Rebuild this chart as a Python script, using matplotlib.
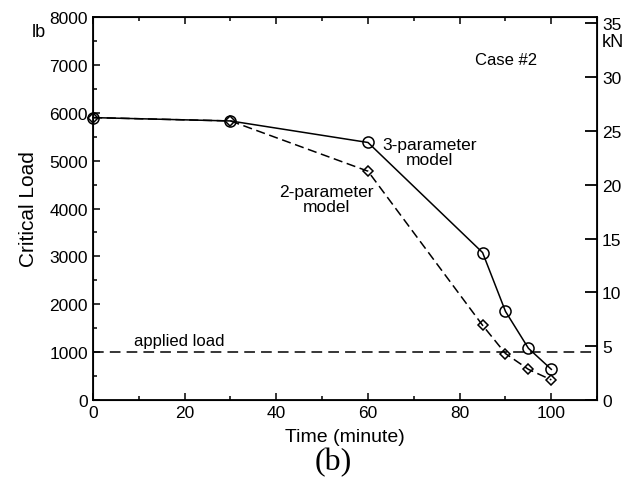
import matplotlib
matplotlib.use("Agg")
import matplotlib.pyplot as plt
from matplotlib.ticker import MultipleLocator

plt.rcParams['font.family'] = ['Liberation Sans', 'DejaVu Sans']

time3 = [0, 30, 60, 85, 90, 95, 100]
load3 = [5900, 5830, 5380, 3080, 1850, 1080, 640]
time2 = [0, 30, 60, 85, 90, 95, 100]
load2 = [5900, 5830, 4780, 1560, 970, 640, 420]
applied_load = 1000
LB_PER_KN = 1000 / 4.448

fig = plt.figure(figsize=(6.24, 4.89), dpi=100)
ax = fig.add_axes([0.149, 0.180, 0.808, 0.783])

ax.plot(time3, load3, '-', color='black', lw=1.1, marker='o', ms=8,
        mfc='none', mec='black', mew=1.1, clip_on=False, zorder=3)
ax.plot(time2, load2, '--', color='black', lw=1.1, dashes=(6, 3), marker='D', ms=5,
        mfc='none', mec='black', mew=1.1, clip_on=False, zorder=3)
ax.axhline(applied_load, color='black', lw=1.1, ls='--', dashes=(7, 4))

ax.set_xlim(0, 110)
ax.set_ylim(0, 8000)
ax.xaxis.set_major_locator(MultipleLocator(20))
ax.xaxis.set_minor_locator(MultipleLocator(10))
ax.yaxis.set_major_locator(MultipleLocator(1000))
ax.yaxis.set_minor_locator(MultipleLocator(500))
ax.tick_params(which='both', direction='in', top=True, labelsize=12.5, width=1.1)
ax.tick_params(which='major', length=5)
ax.tick_params(which='minor', length=3)
for s in ax.spines.values():
    s.set_linewidth(1.3)

ax.set_xlabel('Time (minute)', fontsize=14, labelpad=6)
ax.set_ylabel('Critical Load', fontsize=15, labelpad=8)

ax2 = ax.twinx()
ax2.set_ylim(0, 8000 / LB_PER_KN)
ax2.yaxis.set_major_locator(MultipleLocator(5))
ax2.tick_params(direction='in', length=9, width=1.3, labelsize=12.5)

ax.text(-0.121, 0.962, 'lb', transform=ax.transAxes, fontsize=13, va='center')
ax.text(1.01, 0.925, 'kN', transform=ax.transAxes, fontsize=13, ha='left')
ax.text(83.4, 7120, 'Case #2', fontsize=12, ha='left', va='center')
ax.text(73.5, 5190, '3-parameter\nmodel', fontsize=12.5, ha='center', va='center', linespacing=1.0)
ax.text(51.0, 4190, '2-parameter\nmodel', fontsize=12.5, ha='center', va='center', linespacing=1.0)
ax.text(9, 1080, 'applied load', fontsize=12, ha='left', va='bottom')

fig.text(0.534, 0.055, '(b)', fontsize=23, family=['Liberation Serif', 'DejaVu Serif'],
         ha='center', va='center')

fig.savefig('out.png', dpi=100)
